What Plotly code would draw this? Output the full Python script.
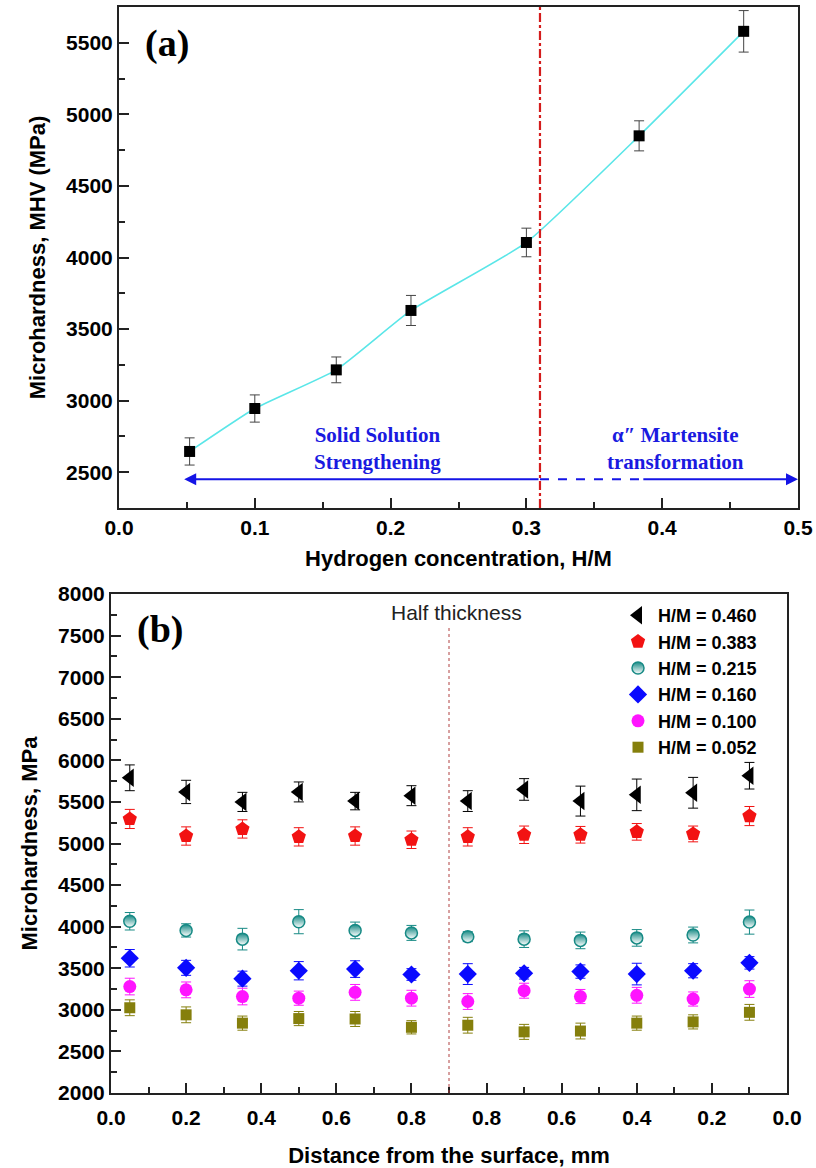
import plotly.graph_objects as go

# ---- panel (a): hardness vs hydrogen concentration
hm = [0.052, 0.100, 0.160, 0.215, 0.300, 0.383, 0.460]
mhv = [2645, 2945, 3215, 3630, 4105, 4850, 5580]
mhv_err = [95, 95, 90, 105, 100, 105, 145]

# ---- panel (b): hardness profile through the thickness
dist = [0.05, 0.20, 0.35, 0.50, 0.65, 0.80, 0.95, 1.10, 1.25, 1.40, 1.55, 1.70]
dist_ticks = [0.0, 0.2, 0.4, 0.6, 0.8, 1.0, 1.2, 1.4, 1.6, 1.8]
dist_ticktext = ["0.0", "0.2", "0.4", "0.6", "0.8", "0.8", "0.6", "0.4", "0.2", "0.0"]

names = ["H/M = 0.460", "H/M = 0.383", "H/M = 0.215", "H/M = 0.160", "H/M = 0.100", "H/M = 0.052"]
hv_460 = [5790, 5620, 5500, 5620, 5510, 5575, 5510, 5650, 5510, 5585, 5610, 5815]
hv_383 = [5295, 5090, 5175, 5080, 5090, 5045, 5080, 5105, 5105, 5140, 5115, 5330]
hv_215 = [4065, 3955, 3850, 4060, 3955, 3925, 3880, 3850, 3835, 3865, 3900, 4055]
hv_160 = [3620, 3505, 3375, 3470, 3490, 3425, 3430, 3440, 3460, 3430, 3470, 3565]
hv_100 = [3280, 3240, 3160, 3140, 3210, 3140, 3100, 3230, 3160, 3175, 3130, 3250]
hv_052 = [3025, 2940, 2840, 2895, 2890, 2790, 2815, 2735, 2745, 2840, 2855, 2970]
err_460 = [155, 140, 115, 120, 105, 120, 125, 130, 180, 190, 185, 160]
err_383 = [115, 110, 110, 110, 110, 105, 110, 105, 100, 100, 95, 115]
err_215 = [105, 80, 130, 145, 100, 90, 60, 100, 100, 100, 95, 145]
err_160 = [105, 90, 90, 110, 100, 70, 125, 70, 80, 130, 85, 75]
err_100 = [100, 95, 100, 85, 95, 95, 95, 90, 85, 95, 85, 100]
err_052 = [95, 95, 85, 85, 90, 80, 95, 90, 95, 85, 85, 95]

transition = 0.31      # boundary between the two mechanisms
half_thick = 0.9       # position of the mid-plane in panel (b)

SANS = "Liberation Sans, Arial, sans-serif"
SERIF = "Liberation Serif, Times New Roman, serif"

fig = go.Figure()

# (a)
fig.add_trace(go.Scatter(
    x=hm, y=mhv, mode="lines", line=dict(color="rgb(90,230,232)", width=1.6, shape="spline", smoothing=0.45),
    showlegend=False, xaxis="x", yaxis="y", hoverinfo="skip"))
fig.add_trace(go.Scatter(
    x=hm, y=mhv, mode="markers",
    marker=dict(symbol="square", size=11, color="black"),
    error_y=dict(type="data", array=mhv_err, color="#444", thickness=1, width=5),
    showlegend=False, xaxis="x", yaxis="y"))

# (b)
styles = [
    (hv_460, err_460, dict(symbol="triangle-left", size=16, color="black"), "black"),
    (hv_383, err_383, dict(symbol="pentagon", size=15, color="#f21212"), "#f21212"),
    (hv_215, err_215, dict(symbol="circle", size=12, color="#178a85",
                           line=dict(color="#178a85", width=1.5),
                           gradient=dict(type="vertical", color="white")), "#178a85"),
    (hv_160, err_160, dict(symbol="diamond", size=14, color="#0a0aff"), "#0a0aff"),
    (hv_100, err_100, dict(symbol="circle", size=13, color="#ff14ff"), "#ff14ff"),
    (hv_052, err_052, dict(symbol="square", size=11, color="#857f0c"), "#857f0c"),
]
for name, (vals, errs, mk, col) in zip(names, styles):
    fig.add_trace(go.Scatter(
        x=dist, y=vals, mode="markers", name=name, marker=mk,
        error_y=dict(type="data", array=errs, color=col, thickness=1, width=5),
        xaxis="x2", yaxis="y2"))

# reference lines
fig.add_shape(type="line", xref="x", yref="y domain", x0=transition, x1=transition, y0=0, y1=1,
              line=dict(color="#d41c1c", width=2.2, dash="dashdot"))
fig.add_shape(type="line", xref="x2", yref="y2", x0=half_thick, x1=half_thick, y0=2000, y1=7600,
              line=dict(color="#b04040", width=1, dash="dot"))

# mechanism arrows in (a)
arrow_y = 2450
fig.add_annotation(x=0.048, y=arrow_y, ax=transition, ay=arrow_y, xref="x", yref="y",
                   axref="x", ayref="y", text="", showarrow=True, arrowhead=2,
                   arrowsize=1.2, arrowwidth=2, arrowcolor="#1414e6")
fig.add_shape(type="line", xref="x", yref="y", x0=transition, x1=0.385, y0=arrow_y, y1=arrow_y,
              line=dict(color="#1414e6", width=2, dash="dash"))
fig.add_annotation(x=0.5, y=arrow_y, ax=0.385, ay=arrow_y, xref="x", yref="y",
                   axref="x", ayref="y", text="", showarrow=True, arrowhead=2,
                   arrowsize=1.2, arrowwidth=2, arrowcolor="#1414e6")

fig.add_annotation(x=0.19, y=2665, xref="x", yref="y", showarrow=False,
                   text="Solid Solution<br>Strengthening",
                   font=dict(family=SERIF, size=21, color="#1a1ae0", weight="bold"))
fig.add_annotation(x=0.41, y=2665, xref="x", yref="y", showarrow=False,
                   text="\u03b1\u2033 Martensite<br>transformation",
                   font=dict(family=SERIF, size=21, color="#1a1ae0", weight="bold"))
fig.add_annotation(x=0.035, y=0.975, xref="x domain", yref="y domain", xanchor="left", yanchor="top",
                   showarrow=False, text="(a)",
                   font=dict(family=SERIF, size=38, color="black", weight="bold"))
fig.add_annotation(x=0.035, y=0.975, xref="x2 domain", yref="y2 domain", xanchor="left", yanchor="top",
                   showarrow=False, text="(b)",
                   font=dict(family=SERIF, size=38, color="black", weight="bold"))
fig.add_annotation(x=0.92, y=7780, xref="x2", yref="y2", showarrow=False, text="Half thickness",
                   font=dict(family=SANS, size=21, color="#222"))

# pixel positions below are measured on the reference picture
W, H = 816, 1168


def dx(p0, p1):
    return [p0 / W, p1 / W]


def dy(top, bottom):
    return [1 - bottom / H, 1 - top / H]


tickfont = dict(family=SANS, size=21, color="black", weight="bold")
titlefont = dict(family=SANS, size=22, color="black", weight="bold")
axis_common = dict(showline=True, linecolor="#222", linewidth=2, mirror=True,
                   ticks="inside", ticklen=10, tickwidth=1.5, tickcolor="#222",
                   showgrid=False, zeroline=False, tickfont=tickfont, automargin=False,
                   ticklabeloverflow="allow")

fig.update_layout(
    width=W, height=H, margin=dict(l=0, r=0, t=0, b=0),
    paper_bgcolor="white", plot_bgcolor="white",
    xaxis=dict(domain=dx(119, 798), range=[0, 0.5], dtick=0.1, tickformat=".1f",
               minor=dict(dtick=0.05, ticks="inside", ticklen=6, tickcolor="#222"),
               title=dict(text="Hydrogen concentration, H/M", font=titlefont, standoff=12),
               anchor="y", **axis_common),
    yaxis=dict(domain=dy(7, 508), range=[2250, 5750], tickvals=[2500, 3000, 3500, 4000, 4500, 5000, 5500],
               minor=dict(dtick=250, ticks="inside", ticklen=6, tickcolor="#222"),
               title=dict(text="Microhardness, MHV (MPa)", font=titlefont, standoff=14),
               anchor="x", **axis_common),
    xaxis2=dict(domain=dx(111, 787), range=[0, 1.8], tickmode="array",
                tickvals=dist_ticks, ticktext=dist_ticktext, ticklabelstandoff=5,
                minor=dict(tickmode="linear", tick0=0, dtick=0.1, ticks="inside", ticklen=6, tickcolor="#222"),
                title=dict(text="Distance from the surface, mm", font=titlefont, standoff=22),
                anchor="y2", **axis_common),
    yaxis2=dict(domain=dy(594, 1093), range=[2000, 8000], dtick=500,
                minor=dict(dtick=250, ticks="inside", ticklen=6, tickcolor="#222"),
                title=dict(text="Microhardness, MPa", font=titlefont, standoff=14),
                anchor="x2", **axis_common),
    legend=dict(x=618 / W, y=1 - 597 / H, xanchor="left", yanchor="top",
                bgcolor="rgba(0,0,0,0)", borderwidth=0, tracegroupgap=0,
                font=dict(family=SANS, size=18, color="black", weight="bold")),
)

# drop the browser's default 8 px body margin so the figure fills the window exactly
fig.write_html("out.html", config={"displayModeBar": False},
               post_script="document.body.style.margin = '0';")
